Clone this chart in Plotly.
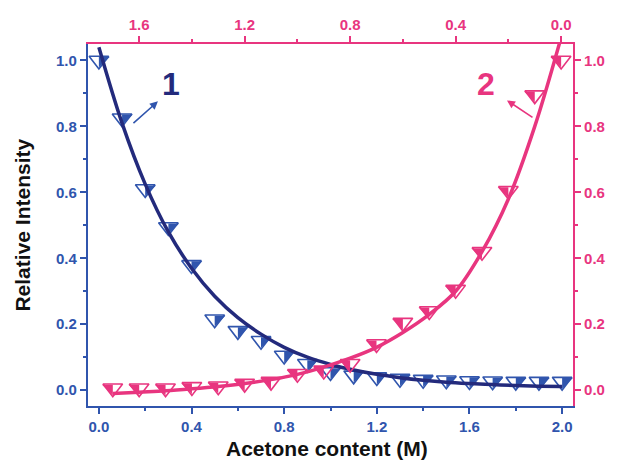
import plotly.graph_objects as go

# ---- data ----
blue_x = [0.0, 0.1, 0.2, 0.3, 0.4, 0.5, 0.6, 0.7, 0.8, 0.9, 1.0,
          1.1, 1.2, 1.3, 1.4, 1.5, 1.6, 1.7, 1.8, 1.9, 2.0]
blue_y = [1.0, 0.825, 0.61, 0.495, 0.38, 0.215, 0.18, 0.15, 0.105, 0.08, 0.055,
          0.045, 0.04, 0.035, 0.032, 0.03, 0.028, 0.027, 0.026, 0.026, 0.026]
blue_fit_x = [0.0, 0.1, 0.2, 0.3, 0.4, 0.5, 0.6, 0.7, 0.8, 0.9, 1.0,
              1.1, 1.2, 1.3, 1.4, 1.5, 1.6, 1.7, 1.8, 1.9, 2.0]
blue_fit_y = [1.04, 0.81, 0.625, 0.48, 0.37, 0.285, 0.22, 0.17, 0.13, 0.10, 0.078,
              0.061, 0.048, 0.038, 0.030, 0.024, 0.020, 0.017, 0.014, 0.012, 0.011]

pink_x = [1.7, 1.6, 1.5, 1.4, 1.3, 1.2, 1.1, 1.0, 0.9, 0.8, 0.7, 0.6,
          0.5, 0.4, 0.3, 0.2, 0.1, 0.0]
pink_y = [0.006, 0.006, 0.006, 0.01, 0.012, 0.02, 0.026, 0.05, 0.06, 0.08, 0.14, 0.205,
          0.24, 0.305, 0.42, 0.605, 0.895, 1.0]
pink_fit_x = [0.0, 0.1, 0.2, 0.3, 0.4, 0.5, 0.6, 0.7, 0.8, 0.9, 1.0,
              1.1, 1.2, 1.3, 1.4, 1.5, 1.6, 1.7]
pink_fit_y = [1.07, 0.80, 0.58, 0.42, 0.30, 0.23, 0.175, 0.13, 0.097, 0.07, 0.048,
              0.032, 0.02, 0.011, 0.004, -0.002, -0.006, -0.01]

bottom_ticks = [0.0, 0.4, 0.8, 1.2, 1.6, 2.0]
top_ticks = [0.0, 0.4, 0.8, 1.2, 1.6]
y_ticks = [0.0, 0.2, 0.4, 0.6, 0.8, 1.0]

NAVY = "#232a7c"
BLUE = "#3055ad"
PINK = "#e8357f"
FONT = "Liberation Sans, Arial, sans-serif"

MS = 17

fig = go.Figure()

# blue markers: outline + right half fill
fig.add_trace(go.Scatter(x=blue_x, y=blue_y, mode="markers", xaxis="x", yaxis="y",
                         marker=dict(symbol="triangle-down-open", size=MS, color=BLUE,
                                     line=dict(width=1.6, color=BLUE)),
                         showlegend=False, hoverinfo="skip"))
fig.add_trace(go.Scatter(x=blue_x, y=blue_y, mode="markers", xaxis="x", yaxis="y",
                         marker=dict(symbol="triangle-ne", size=MS * 0.7, color=BLUE,
                                     angle=-90, standoff=MS * 0.21,
                                     line=dict(width=0)),
                         showlegend=False, hoverinfo="skip"))
fig.add_trace(go.Scatter(x=blue_fit_x, y=blue_fit_y, mode="lines", xaxis="x", yaxis="y",
                         line=dict(color=NAVY, width=3.5, shape="spline", smoothing=1),
                         showlegend=False, hoverinfo="skip"))

# pink markers: outline + left half fill
fig.add_trace(go.Scatter(x=pink_x, y=pink_y, mode="markers", xaxis="x2", yaxis="y2",
                         marker=dict(symbol="triangle-down-open", size=MS, color=PINK,
                                     line=dict(width=1.6, color=PINK)),
                         showlegend=False, hoverinfo="skip"))
fig.add_trace(go.Scatter(x=pink_x, y=pink_y, mode="markers", xaxis="x2", yaxis="y2",
                         marker=dict(symbol="triangle-nw", size=MS * 0.7, color=PINK,
                                     angle=90, standoff=MS * 0.21,
                                     line=dict(width=0)),
                         showlegend=False, hoverinfo="skip"))
fig.add_trace(go.Scatter(x=pink_fit_x, y=pink_fit_y, mode="lines", xaxis="x2", yaxis="y2",
                         line=dict(color=PINK, width=3.5, shape="spline", smoothing=1),
                         showlegend=False, hoverinfo="skip"))

YR = [-0.048, 1.05]
tickfont_b = dict(family=FONT, size=15, color=BLUE, weight="bold")
tickfont_p = dict(family=FONT, size=15, color=PINK, weight="bold")

common = dict(showgrid=False, zeroline=False, showline=True, linewidth=2.2,
              ticks="outside", ticklen=6, tickwidth=2, tickformat=".1f")

fig.update_layout(
    width=618, height=462,
    margin=dict(l=88, r=38, t=44, b=56),
    paper_bgcolor="white", plot_bgcolor="white",
    xaxis=dict(range=[-0.047, 2.047], tickvals=bottom_ticks, linecolor=BLUE, tickcolor=BLUE,
               tickfont=tickfont_b, anchor="y",
               minor=dict(ticks="outside", dtick=0.2, tick0=0, ticklen=3, tickwidth=2, tickcolor=BLUE),
               **common),
    xaxis2=dict(range=[1.794, -0.045], tickvals=top_ticks, linecolor=PINK, tickcolor=PINK,
                tickfont=tickfont_p, overlaying="x", side="top", anchor="y",
                minor=dict(ticks="outside", dtick=0.2, tick0=0, ticklen=3, tickwidth=2, tickcolor=PINK),
                **common),
    yaxis=dict(range=YR, tickvals=y_ticks, linecolor=BLUE, tickcolor=BLUE,
               tickfont=tickfont_b, anchor="x",
               minor=dict(ticks="outside", dtick=0.1, tick0=0, ticklen=3, tickwidth=2, tickcolor=BLUE),
               **common),
    yaxis2=dict(range=YR, tickvals=y_ticks, linecolor=PINK, tickcolor=PINK,
                tickfont=tickfont_p, overlaying="y", side="right", anchor="x",
                minor=dict(ticks="outside", dtick=0.1, tick0=0, ticklen=3, tickwidth=2, tickcolor=PINK),
                **common),
    annotations=[
        dict(text="<b>Relative Intensity</b>", xref="paper", yref="paper", x=-0.137, y=0.5,
             textangle=-90, showarrow=False, font=dict(family=FONT, size=21, color="#111111"),
             xanchor="center", yanchor="middle"),
        dict(text="<b>Acetone content (M)</b>", xref="paper", yref="paper", x=0.492, y=-0.117,
             showarrow=False, font=dict(family=FONT, size=21, color="#111111"),
             xanchor="center", yanchor="middle"),
        dict(text="<b>1</b>", xref="x", yref="y", x=0.31, y=0.93, showarrow=False,
             font=dict(family=FONT, size=32, color=NAVY)),
        dict(text="<b>2</b>", xref="x", yref="y", x=1.672, y=0.93, showarrow=False,
             font=dict(family=FONT, size=32, color=PINK)),
        dict(text="", xref="x", yref="y", x=0.255, y=0.876, ax=-26, ay=23,
             showarrow=True, arrowhead=2, arrowsize=1, arrowwidth=1.6, arrowcolor=BLUE),
        dict(text="", xref="x", yref="y", x=1.762, y=0.879, ax=27, ay=18,
             showarrow=True, arrowhead=2, arrowsize=1, arrowwidth=1.6, arrowcolor=PINK),
    ],
)

fig.write_html("out.html")
